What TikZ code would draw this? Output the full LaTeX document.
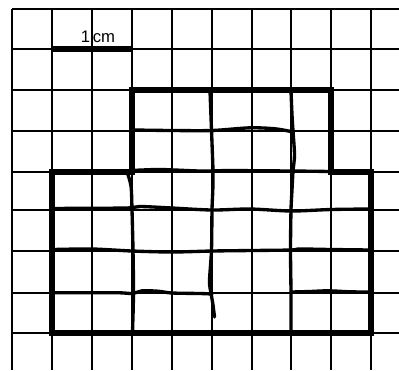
\documentclass[tikz,border=0pt]{standalone}
\usepackage{fontspec}
\setsansfont{Liberation Sans}
\begin{document}
\begin{tikzpicture}[x=0.02cm,y=-0.02cm,
  gridline/.style={line width=1.0pt},
  hand/.style={line width=1.9pt, line cap=round, line join=round},
  outline/.style={line width=3.1pt, line join=miter},
  lbl/.style={font=\sffamily\fontsize{9.5}{9.5}\selectfont, anchor=base, inner sep=0pt}]
\useasboundingbox (0,0) rectangle (399,370);
\fill[white] (0,0) rectangle (399,370);
% thin grid
\foreach \x in {12,52,92,132,172,212,252,291,331,371}
  \draw[gridline] (\x,9) -- (\x,370);
\foreach \y in {9,49,90,131,172,210,251,293,333}
  \draw[gridline] (12,\y) -- (399,\y);
% hand-drawn interior lines
\draw[hand] plot[smooth, tension=0.5] coordinates {(134,130) (172,130.5) (212,130.5) (250,127.8) (275,128.8) (291,131.5)};
\draw[hand] plot[smooth, tension=0.5] coordinates {(132,170.5) (160,169.5) (200,171) (230,170.5) (260,170.8) (293,171) (331,171.5)};
\draw[hand] plot[smooth, tension=0.5] coordinates {(210,91) (211.5,130) (213,171) (212.8,190) (212,210) (211.5,250) (209.5,281) (211,293) (213,305) (214.5,317)};
\draw[hand] plot[smooth, tension=0.5] coordinates {(291,91) (292,115) (293,131) (294.5,155) (293,171) (292,190) (291,210) (290.5,250) (291,293) (291,332)};
\draw[hand] plot[smooth, tension=0.5] coordinates {(127,172) (131,186) (132,210) (133,250) (133.5,293) (132.5,332)};
\draw[hand] plot[smooth, tension=0.5] coordinates {(53,208.5) (92,208.2) (128,208) (140,206.5) (172,208) (212,210) (250,209) (291,211) (331,209.5) (370,209)};
\draw[hand] plot[smooth, tension=0.5] coordinates {(53,249.5) (92,249) (132,251) (172,252) (212,251) (252,250.5) (291,250) (300,249) (331,249.5) (370,250)};
\draw[hand] plot[smooth, tension=0.5] coordinates {(53,292.8) (92,292.8) (120,292.8) (133,293.5) (142,290.8) (158,291.2) (172,293) (200,293.5) (212,294)};
\draw[hand] plot[smooth, tension=0.5] coordinates {(291,292) (310,291.5) (328,290.8) (350,291.8) (370,292)};
% thick outline
\draw[outline] (132,90) -- (331,90) -- (331,172) -- (371,172) -- (371,333) -- (52,333) -- (52,172) -- (132,172) -- cycle;
% scale bar
\coordinate (sbA) at (52,49);
\coordinate (sbB) at (132,49);
\draw[outline] (sbA) -- (sbB);
\node[lbl] (scalelabel) at (98,42) {1\,cm};
\end{tikzpicture}
\end{document}
